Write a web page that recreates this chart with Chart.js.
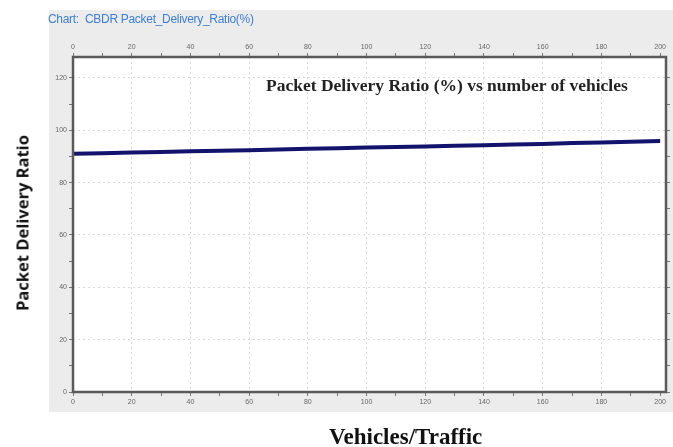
<!DOCTYPE html>
<html>
<head>
<meta charset="utf-8">
<script src="https://cdn.jsdelivr.net/npm/chart.js@4"></script>
<style>
html,body{margin:0;padding:0;background:#fff;}
#wrap{position:relative;width:673px;height:447px;overflow:hidden;}
#c{position:absolute;left:0;top:0;}
.t{position:absolute;white-space:nowrap;}
#hdr{left:48px;top:12px;font:12px "Liberation Sans",Arial,sans-serif;color:#3d7fd6;letter-spacing:-0.3px;}
#inner{left:266px;top:75px;font:bold 17.5px "Liberation Serif","Times New Roman",serif;color:#222;}
#xt{left:329px;top:424px;font:bold 23px "Liberation Serif","Times New Roman",serif;color:#111;}
#yt{left:22px;top:223px;font:bold 16.5px "Open Sans",sans-serif;color:#111;transform:translate(-50%,-50%) rotate(-90deg);}
</style>
</head>
<body>
<div id="wrap">
<canvas id="c" width="673" height="447"></canvas>
<div class="t" id="hdr">Chart:&nbsp; CBDR Packet_Delivery_Ratio(%)</div>
<div class="t" id="inner">Packet Delivery Ratio (%) vs number of vehicles</div>
<div class="t" id="xt">Vehicles/Traffic</div>
<div class="t" id="yt">Packet Delivery Ratio</div>
</div>
<script>
const vehicles = [0,10,20,30,40,50,60,70,80,90,100,110,120,130,140,150,160,170,180,190,200];
const pdr = [91.0,91.2,91.5,91.7,92.0,92.2,92.4,92.7,92.9,93.1,93.4,93.6,93.8,94.1,94.3,94.6,94.8,95.1,95.3,95.6,95.9];
const xTicks = [0,10,20,30,40,50,60,70,80,90,100,110,120,130,140,150,160,170,180,190,200];
const yTicks = [0,10,20,30,40,50,60,70,80,90,100,110,120];

const panel = {
  id:'panel',
  beforeDraw(chart){
    const ctx = chart.ctx, a = chart.chartArea;
    ctx.save();
    ctx.fillStyle = '#ececec';
    ctx.fillRect(49,10,624,402);
    ctx.fillStyle = '#ffffff';
    ctx.fillRect(a.left,a.top,a.right-a.left,a.bottom-a.top);
    ctx.restore();
  },
  afterDraw(chart){
    const ctx = chart.ctx, a = chart.chartArea;
    ctx.save();
    ctx.strokeStyle = '#5a5a5a';
    ctx.lineWidth = 2.5;
    ctx.strokeRect(a.left,a.top,a.right-a.left,a.bottom-a.top);
    ctx.restore();
  }
};

const tickCb = v => (v % 20 === 0 ? String(v) : '');
const gridCol = ctx => (ctx.tick && ctx.tick.value % 20 === 0 && ctx.tick.value > 0 && ctx.tick.value < 200 ? '#dadada' : 'rgba(0,0,0,0)');
const tickFont = {family:'"Liberation Sans", Arial, sans-serif', size:7};

new Chart(document.getElementById('c'), {
  type:'line',
  data:{
    datasets:[{
      data: vehicles.map((v,i)=>({x:v,y:pdr[i]})),
      borderColor:'#13136e',
      borderWidth:4,
      pointRadius:0,
      tension:0,
      fill:false
    }]
  },
  plugins:[panel],
  options:{
    responsive:false,
    animation:false,
    events:[],
    layout:{padding:{left:49,right:0,top:39,bottom:37}},
    plugins:{legend:{display:false},tooltip:{enabled:false},title:{display:false}},
    scales:{
      x:{
        type:'linear', position:'bottom', min:0, max:202,
        afterBuildTicks:s=>{s.ticks = xTicks.map(v=>({value:v}));},
        afterFit:s=>{s.height=18;},
        ticks:{callback:tickCb, font:tickFont, color:'#666', padding:2, maxRotation:0, autoSkip:false},
        grid:{color:gridCol, lineWidth:1, drawTicks:true, tickLength:4, tickColor:'#777', tickWidth:1},
        border:{display:false, dash:[2,3]}
      },
      x2:{
        type:'linear', position:'top', min:0, max:202,
        afterBuildTicks:s=>{s.ticks = xTicks.map(v=>({value:v}));},
        afterFit:s=>{s.height=18;},
        ticks:{callback:tickCb, font:tickFont, color:'#666', padding:2, maxRotation:0, autoSkip:false},
        grid:{drawOnChartArea:false, drawTicks:true, tickLength:4, tickColor:'#777', tickWidth:1},
        border:{display:false}
      },
      y:{
        type:'linear', position:'left', min:0, max:128,
        afterBuildTicks:s=>{s.ticks = yTicks.map(v=>({value:v}));},
        afterFit:s=>{s.width=24;},
        ticks:{callback:tickCb, font:tickFont, color:'#666', padding:2, autoSkip:false},
        grid:{color:ctx => (ctx.tick && ctx.tick.value % 20 === 0 && ctx.tick.value > 0 ? '#dadada' : 'rgba(0,0,0,0)'), lineWidth:1, drawTicks:true, tickLength:4, tickColor:'#777', tickWidth:1},
        border:{display:false, dash:[2,3]}
      },
      y2:{
        type:'linear', position:'right', min:0, max:128,
        afterBuildTicks:s=>{s.ticks = yTicks.map(v=>({value:v}));},
        afterFit:s=>{s.width=7;},
        ticks:{display:false},
        grid:{drawOnChartArea:false, drawTicks:true, tickLength:4, tickColor:'#777', tickWidth:1},
        border:{display:false}
      }
    }
  }
});
</script>
</body>
</html>
